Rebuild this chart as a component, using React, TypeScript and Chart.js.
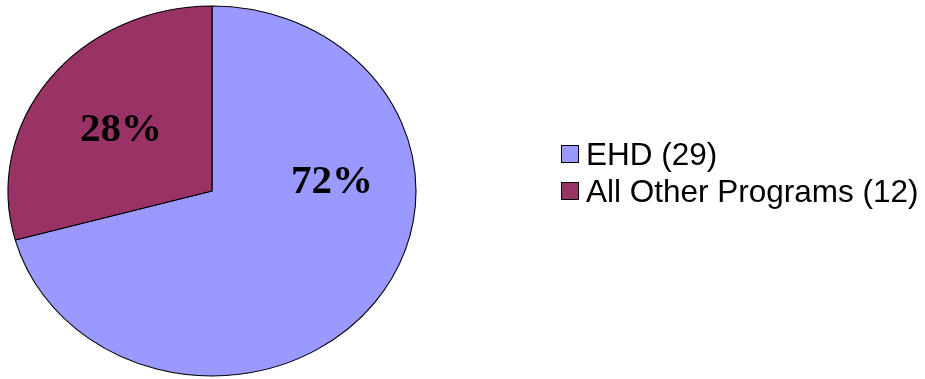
import React, { useEffect, useRef } from "react";
import { Chart, registerables } from "chart.js";

Chart.register(...registerables);

const categories = ["EHD (29)", "All Other Programs (12)"];
const values = [29, 12];
const percentLabels = ["72%", "28%"];
const colors = ["#9999FF", "#993366"];

// label anchors in normalized pie units (fraction of x/y radius from center)
const labelAnchors: [number, number][] = [
  [0.588, -0.045],
  [-0.446, -0.33],
];

const SX = 204 / 185;

const ellipsePlugin = {
  id: "ellipse",
  beforeDatasetsDraw(chart: any) {
    const arc = chart.getDatasetMeta(0).data[0];
    const ctx = chart.ctx;
    ctx.save();
    ctx.translate(arc.x, arc.y);
    ctx.scale(SX, 1);
    ctx.translate(-arc.x, -arc.y);
  },
  afterDatasetsDraw(chart: any) {
    const ctx = chart.ctx;
    ctx.restore();
    const meta = chart.getDatasetMeta(0);
    // percent labels
    ctx.save();
    ctx.fillStyle = "#000";
    ctx.font = "bold 41px 'Liberation Serif', 'Times New Roman', serif";
    ctx.textAlign = "center";
    ctx.textBaseline = "middle";
    meta.data.forEach((arc: any, i: number) => {
      const r = arc.outerRadius;
      const x = arc.x + r * SX * labelAnchors[i][0];
      const y = arc.y + r * labelAnchors[i][1];
      ctx.fillText(percentLabels[i], x, y);
    });
    ctx.restore();

    // legend
    ctx.save();
    const boxX = 561.5;
    const box = 17;
    const rowY0 = 156.5;
    const rowH = 36.5;
    ctx.font = "31.5px 'Liberation Sans', Arial, sans-serif";
    ctx.textBaseline = "middle";
    ctx.textAlign = "left";
    chart.data.labels.forEach((lab: string, i: number) => {
      const cy = rowY0 + i * rowH;
      const by = Math.round(cy - 3 - box / 2) + 0.5;
      ctx.fillStyle = colors[i];
      ctx.fillRect(boxX, by, box, box);
      ctx.strokeStyle = "#000";
      ctx.lineWidth = 1;
      ctx.strokeRect(boxX, by, box, box);
      ctx.fillStyle = "#000";
      ctx.fillText(lab, 586, cy);
    });
    ctx.restore();
  },
};

export default function App() {
  const ref = useRef<HTMLCanvasElement>(null);
  useEffect(() => {
    if (!ref.current) return;
    const chart = new Chart(ref.current, {
      type: "pie",
      data: {
        labels: categories,
        datasets: [
          {
            data: values,
            backgroundColor: colors,
            borderColor: "#000",
            borderWidth: 1,
          },
        ],
      },
      options: {
        animation: false,
        responsive: true,
        maintainAspectRatio: false,
        devicePixelRatio: 1,
        radius: 185,
        layout: { padding: { left: 0, right: 501, top: 3, bottom: 0 } },
        plugins: {
          legend: { display: false },
          tooltip: { enabled: false },
        },
        events: [],
      } as any,
      plugins: [ellipsePlugin],
    });
    return () => chart.destroy();
  }, []);
  return (
    <div style={{ position: "absolute", left: 0, top: 0, width: 925, height: 379, background: "#fff" }}>
      <canvas ref={ref} />
    </div>
  );
}
